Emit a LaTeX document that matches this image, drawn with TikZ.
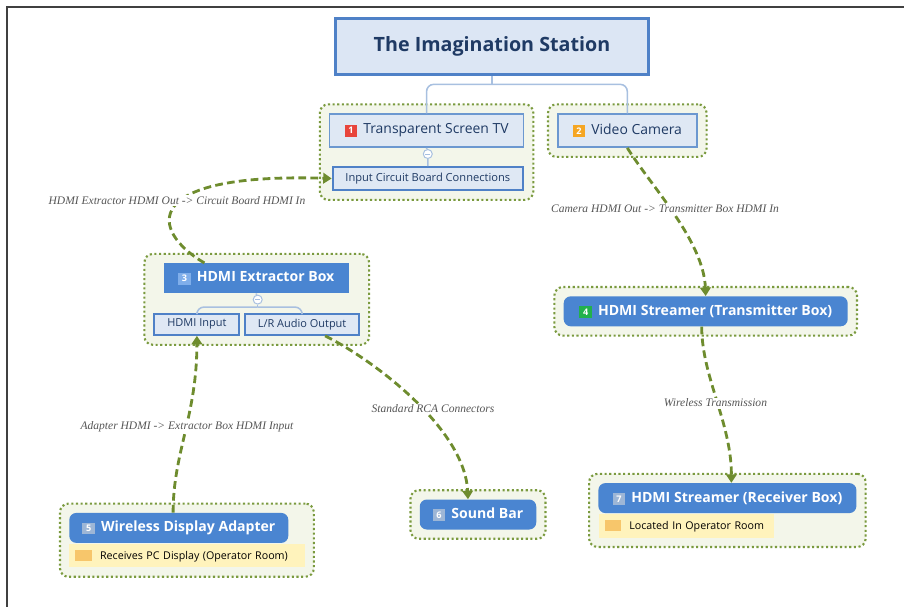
\documentclass[tikz,border=0pt]{standalone}
\usepackage{fontspec}
\setmainfont{Open Sans}
\newfontfamily\lblfont{Liberation Serif}
\usetikzlibrary{positioning,fit,calc,backgrounds,arrows.meta}

\definecolor{titlefill}{HTML}{DCE6F4}
\definecolor{titleline}{HTML}{4F81C7}
\definecolor{lightfill}{HTML}{DFE8F4}
\definecolor{lightline}{HTML}{6C98D0}
\definecolor{darkfill}{HTML}{4A85D1}
\definecolor{navytext}{HTML}{1F3A64}
\definecolor{grpline}{HTML}{7A9A3E}
\definecolor{grpfill}{HTML}{F3F6EA}
\definecolor{linkcol}{HTML}{6E8C2E}
\definecolor{treecol}{HTML}{A8C0E0}
\definecolor{notefill}{HTML}{FFF3BC}
\definecolor{noteicon}{HTML}{F7C66B}
\definecolor{lblcol}{HTML}{555555}
\definecolor{tagred}{HTML}{E8453C}
\definecolor{tagorange}{HTML}{F5A623}
\definecolor{tagblue}{HTML}{7FAEEA}
\definecolor{taggreen}{HTML}{22B14C}
\definecolor{taggrey}{HTML}{9DB6D6}

\newcommand{\tagnum}[2]{{\setlength{\fboxsep}{1.8pt}\colorbox{#1}{\makebox[5.5pt]{\fontsize{6.5}{6.5}\selectfont\bfseries\color{white}#2}}}}
\newcommand{\noteicon}{\textcolor{noteicon}{\rule[-1pt]{11.5pt}{8pt}}}

\begin{document}
\begin{tikzpicture}[x=0.025cm, y=-0.025cm,
  lbox/.style={draw=lightline, fill=lightfill, line width=1.1pt, text=navytext, inner sep=0pt},
  dbox/.style={fill=darkfill, text=white, inner sep=0pt, font=\fontsize{10}{12}\selectfont\bfseries},
  note/.style={fill=notefill, inner xsep=0.15cm, inner ysep=0pt, align=left, font=\fontsize{7.6}{9}\selectfont},
  grp/.style={draw=grpline, fill=grpfill, line width=1.5pt, dash pattern=on 1.5pt off 1.8pt, rounded corners=6pt, inner sep=0.225cm},
  tree/.style={draw=treecol, line width=1.1pt, rounded corners=5pt},
  minus/.style={circle, draw=treecol, fill=white, line width=0.7pt, inner sep=0pt, minimum size=9*0.025cm,
    path picture={\draw[treecol, line width=0.6pt] ([xshift=-1.8pt]path picture bounding box.center) -- ([xshift=1.8pt]path picture bounding box.center);}},
  link/.style={draw=linkcol, line width=2pt, dash pattern=on 5.5pt off 3pt, -{Triangle[width=7.5pt,length=6pt]}},
  lbl/.style={fill=white, inner sep=1pt, text=lblcol, font=\lblfont\itshape\fontsize{8.2}{9}\selectfont}]
\def\px{0.025cm}
\useasboundingbox (0,0) rectangle (904,607);
\draw[black!75, line width=1.5pt] (904,7) -- (7,7) -- (7,607);

% title and top row
\node[lbox, draw=titleline, fill=titlefill, line width=2.5pt, minimum width=313*\px, minimum height=56*\px,
  font=\fontsize{14}{16}\selectfont\bfseries] (title) at (492,46.6) {The Imagination Station};
\node[lbox, minimum width=194*\px, minimum height=33*\px, font=\fontsize{9.9}{11}\selectfont] (tv) at (426.6,130.6)
  {\tagnum{tagred}{1}\, Transparent Screen TV};
\node[lbox, minimum width=139*\px, minimum height=33*\px, font=\fontsize{9.9}{11}\selectfont] (cam) at (627.3,130.6)
  {\tagnum{tagorange}{2}\, Video Camera};
\node[minus] (m1) at (427.8,154) {};
\node[lbox, draw=titleline, line width=1.6pt, minimum width=190*\px, minimum height=22.5*\px,
  font=\fontsize{7.9}{9}\selectfont] (icb) at (427.8,178.5) {Input Circuit Board Connections};

% extractor
\node[dbox, minimum width=185*\px, minimum height=30*\px] (hdx) at (256.2,278.2)
  {\tagnum{tagblue}{3}\, HDMI Extractor Box};
\node[minus] (m2) at (257.7,299.6) {};
\node[lbox, draw=titleline, line width=1.4pt, minimum width=85*\px, minimum height=21.3*\px,
  font=\fontsize{7.8}{9}\selectfont] (hin) at (196.9,324.2) {HDMI Input};
\node[lbox, draw=titleline, line width=1.4pt, minimum width=114*\px, minimum height=21.3*\px,
  font=\fontsize{7.8}{9}\selectfont] (lra) at (302.1,324.2) {L/R Audio Output};

% streamers, adapter, sound bar
\node[dbox, rounded corners=5pt, minimum width=284*\px, minimum height=30*\px] (tx) at (705.7,311.3)
  {\tagnum{taggreen}{4}\, HDMI Streamer (Transmitter Box)};
\node[dbox, rounded corners=5pt, minimum width=258*\px, minimum height=30*\px] (rx) at (727.4,498.1)
  {\tagnum{taggrey}{7}\, HDMI Streamer (Receiver Box)};
\node[note, text width=4.08cm, minimum height=23.3*\px, anchor=north west] (rxn) at (598.5,514.1)
  {\mbox{\noteicon\hspace{6pt}Located In Operator Room}};
\node[dbox, rounded corners=5pt, minimum width=219*\px, minimum height=30*\px] (wda) at (178.8,527.9)
  {\tagnum{taggrey}{5}\, Wireless Display Adapter};
\node[note, text width=5.575cm, minimum height=23.2*\px, anchor=north west] (wdan) at (69.2,544)
  {\mbox{\noteicon\hspace{6pt}Receives PC Display (Operator Room)}};
\node[dbox, rounded corners=5pt, minimum width=116.5*\px, minimum height=30*\px] (sb) at (478,514.5)
  {\tagnum{taggrey}{6}\, Sound Bar};

% dotted groups behind
\begin{scope}[on background layer]
  \foreach \g/\f in {gtv/{(tv)(icb)}, gcam/{(cam)}, ghdx/{(hdx)(hin)(lra)}, gtx/{(tx)}, grx/{(rx)(rxn)}, gwda/{(wda)(wdan)}, gsb/{(sb)}}
    \node[grp, fit=\f] (\g) {};
\end{scope}

% tree lines
\draw[tree] (title.south) -- ++(0,8) coordinate (j1);
\draw[tree] (j1) -| (tv.north);
\draw[tree] (j1) -| (cam.north);
\draw[tree] (tv.south) -- (m1) -- (icb.north);
\draw[tree] (hdx.south) -- (m2);
\draw[tree] (m2.south) -- ++(0,2.5) coordinate (j2);
\draw[tree] (j2) -| (hin.north);
\draw[tree] (j2) -| (lra.north);

% connections
\draw[link] ($(hdx.north west)+(41,0)$) .. controls +(-55,-32) and +(-193,-6) .. (icb.west);
\draw[link] (cam.south) .. controls +(25,40) and +(-2,-55) .. (tx.north);
\draw[link] ($(tx.south)+(-4,0)$) .. controls +(0,50) and +(0,-60) .. ($(rx.north)+(4,0)$);
\draw[link] ($(wda.north)+(-5.7,0)$) .. controls +(0,-60) and +(0,80) .. (hin.south);
\draw[link] ($(lra.south)+(23,0)$) .. controls +(50,25) and +(-3,-70) .. ($(sb.north)+(-10,0)$);

% connection labels
\foreach \n/\x/\y/\txt in {l1/177/200.2/HDMI Extractor HDMI Out -> Circuit Board HDMI In,
    l2/665/209/Camera HDMI Out -> Transmitter Box HDMI In,
    l3/715.5/403/Wireless Transmission,
    l4/187/426.6/Adapter HDMI -> Extractor Box HDMI Input,
    l5/433/409/Standard RCA Connectors}
  \node[lbl] (\n) at (\x,\y) {\txt};
\end{tikzpicture}
\end{document}
